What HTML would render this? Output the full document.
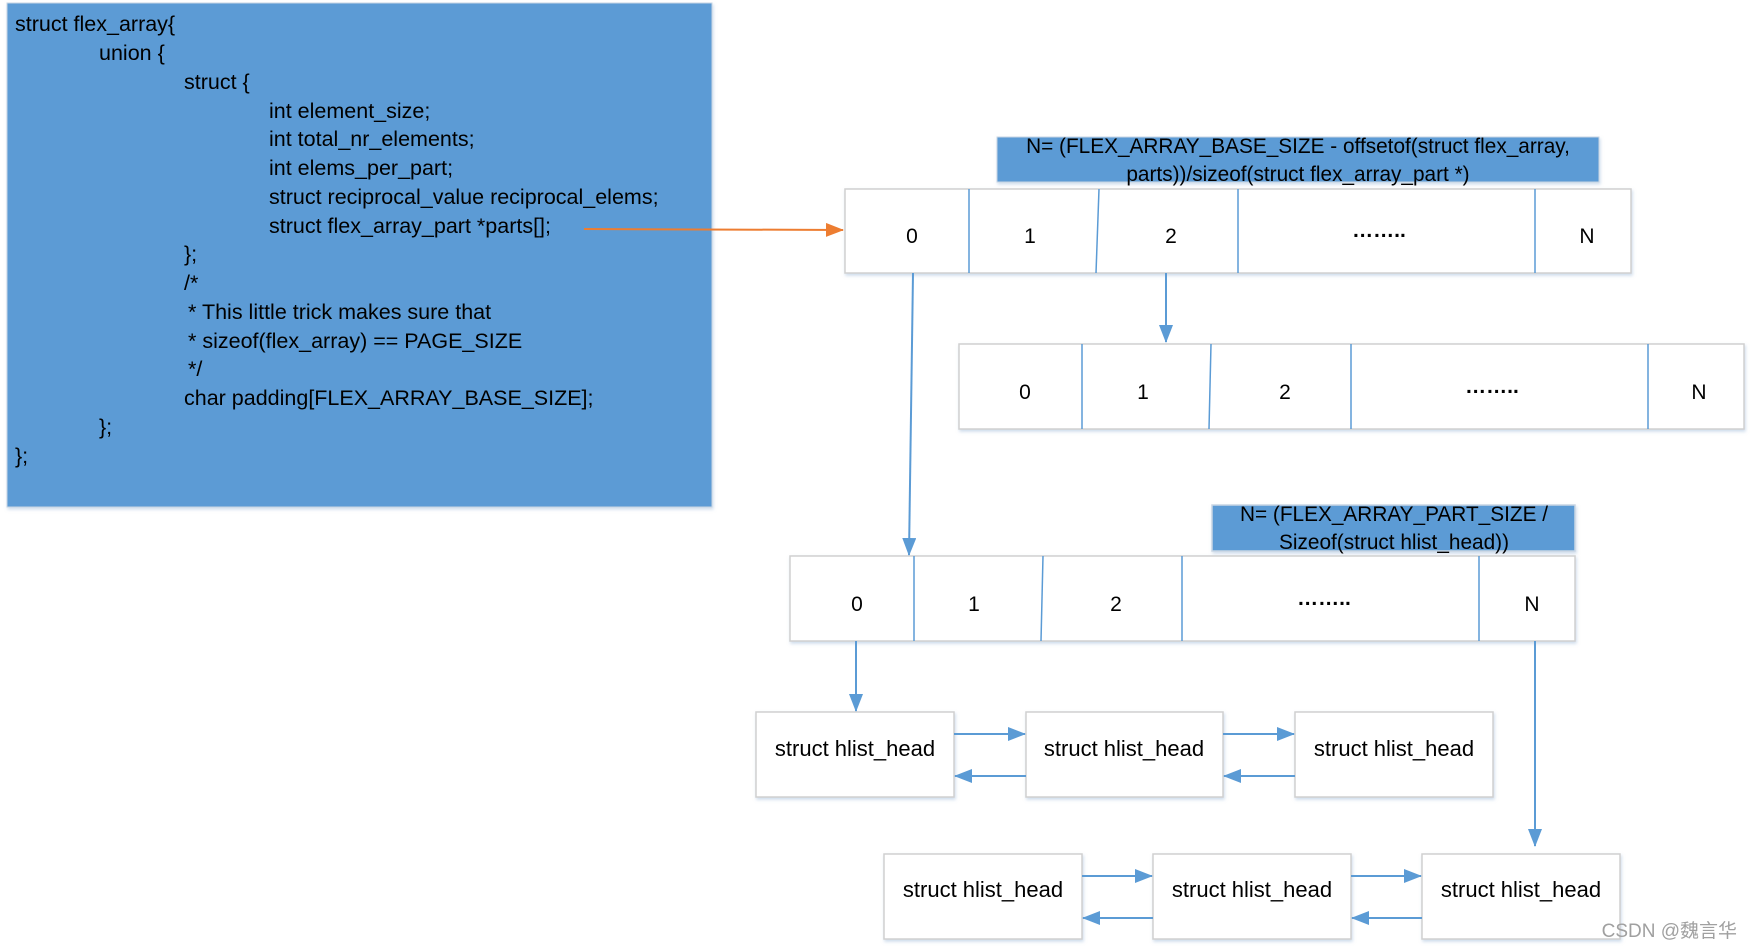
<!DOCTYPE html>
<html><head><meta charset="utf-8"><style>
html,body{margin:0;padding:0;background:#fff;width:1752px;height:949px;overflow:hidden}
svg text{font-family:"Liberation Sans","Noto Sans CJK SC",sans-serif;fill:#000}
</style></head><body>
<svg width="1752" height="949" viewBox="0 0 1752 949" xmlns="http://www.w3.org/2000/svg">
<defs>
<marker id="ab" markerWidth="18" markerHeight="14" refX="17" refY="7" orient="auto" markerUnits="userSpaceOnUse" viewBox="0 0 18 14"><path d="M0,0 L18,7 L0,14 z" fill="#5b9bd5"/></marker>
<marker id="ao" markerWidth="18" markerHeight="14" refX="17" refY="7" orient="auto" markerUnits="userSpaceOnUse" viewBox="0 0 18 14"><path d="M0,0 L18,7 L0,14 z" fill="#ed7d31"/></marker>
<filter id="sh" x="-5%" y="-5%" width="110%" height="120%"><feDropShadow dx="1" dy="2" stdDeviation="1.5" flood-color="#9db9d8" flood-opacity="0.5"/></filter>
</defs>
<!-- code box -->
<rect x="7" y="3" width="705" height="504" fill="#5b9bd5" stroke="#c9d6e4" filter="url(#sh)"/>
<g font-size="21.5">
<text x="15" y="31">struct flex_array{</text>
<text x="99" y="60">union {</text>
<text x="184" y="89">struct {</text>
<text x="269" y="118">int element_size;</text>
<text x="269" y="146">int total_nr_elements;</text>
<text x="269" y="175">int elems_per_part;</text>
<text x="269" y="204">struct reciprocal_value reciprocal_elems;</text>
<text x="269" y="233">struct flex_array_part *parts[];</text>
<text x="184" y="261">};</text>
<text x="184" y="290">/*</text>
<text x="188" y="319">* This little trick makes sure that</text>
<text x="188" y="348">* sizeof(flex_array) == PAGE_SIZE</text>
<text x="188" y="376">*/</text>
<text x="184" y="405">char padding[FLEX_ARRAY_BASE_SIZE];</text>
<text x="99" y="434">};</text>
<text x="15" y="463">};</text>
</g>
<line x1="584" y1="229" x2="843" y2="230" stroke="#ed7d31" stroke-width="2" marker-end="url(#ao)"/>

<!-- formula 1 -->
<rect x="997" y="137" width="602" height="45" fill="#5b9bd5" stroke="#c9d6e4" filter="url(#sh)"/>
<text x="1298" y="153" font-size="20.8" text-anchor="middle">N= (FLEX_ARRAY_BASE_SIZE - offsetof(struct flex_array,</text>
<text x="1298" y="181" font-size="20.8" text-anchor="middle">parts))/sizeof(struct flex_array_part *)</text>

<g font-size="21" text-anchor="middle" stroke-width="1.5">
<!-- array 1 -->
<rect x="845" y="189" width="786" height="84" fill="#fff" stroke="#d0d0d0" filter="url(#sh)"/>
<line x1="969" y1="189" x2="969" y2="273" stroke="#5b9bd5"/>
<line x1="1099" y1="189" x2="1096" y2="273" stroke="#5b9bd5"/>
<line x1="1238" y1="189" x2="1238" y2="273" stroke="#5b9bd5"/>
<line x1="1535" y1="189" x2="1535" y2="273" stroke="#5b9bd5"/>
<text x="912" y="243">0</text><text x="1030" y="243">1</text><text x="1171" y="243">2</text><text x="1379" y="237" font-weight="bold">……..</text><text x="1587" y="243">N</text>

<!-- array 2 -->
<rect x="959" y="344" width="785" height="85" fill="#fff" stroke="#d0d0d0" filter="url(#sh)"/>
<line x1="1082" y1="344" x2="1082" y2="429" stroke="#5b9bd5"/>
<line x1="1211" y1="344" x2="1209" y2="429" stroke="#5b9bd5"/>
<line x1="1351" y1="344" x2="1351" y2="429" stroke="#5b9bd5"/>
<line x1="1648" y1="344" x2="1648" y2="429" stroke="#5b9bd5"/>
<text x="1025" y="399">0</text><text x="1143" y="399">1</text><text x="1285" y="399">2</text><text x="1492" y="393" font-weight="bold">……..</text><text x="1699" y="399">N</text>

<!-- formula 2 -->
<rect x="1212" y="505" width="363" height="46" fill="#5b9bd5" stroke="#c9d6e4" filter="url(#sh)"/>
<text x="1394" y="521" font-size="20.8">N= (FLEX_ARRAY_PART_SIZE /</text>
<text x="1394" y="549" font-size="20.8">Sizeof(struct hlist_head))</text>

<!-- array 3 -->
<rect x="790" y="556" width="785" height="85" fill="#fff" stroke="#d0d0d0" filter="url(#sh)"/>
<line x1="914" y1="556" x2="914" y2="641" stroke="#5b9bd5"/>
<line x1="1043" y1="556" x2="1041" y2="641" stroke="#5b9bd5"/>
<line x1="1182" y1="556" x2="1182" y2="641" stroke="#5b9bd5"/>
<line x1="1479" y1="556" x2="1479" y2="641" stroke="#5b9bd5"/>
<text x="857" y="611">0</text><text x="974" y="611">1</text><text x="1116" y="611">2</text><text x="1324" y="605" font-weight="bold">……..</text><text x="1532" y="611">N</text>

<g font-size="22">
<!-- hlist row 1 -->
<rect x="756" y="712" width="198" height="85" fill="#fff" stroke="#d0d0d0" filter="url(#sh)"/>
<rect x="1026" y="712" width="197" height="85" fill="#fff" stroke="#d0d0d0" filter="url(#sh)"/>
<rect x="1295" y="712" width="198" height="85" fill="#fff" stroke="#d0d0d0" filter="url(#sh)"/>
<text x="855" y="756">struct hlist_head</text><text x="1124" y="756">struct hlist_head</text><text x="1394" y="756">struct hlist_head</text>
<!-- hlist row 2 -->
<rect x="884" y="854" width="198" height="85" fill="#fff" stroke="#d0d0d0" filter="url(#sh)"/>
<rect x="1153" y="854" width="198" height="85" fill="#fff" stroke="#d0d0d0" filter="url(#sh)"/>
<rect x="1422" y="854" width="198" height="85" fill="#fff" stroke="#d0d0d0" filter="url(#sh)"/>
<text x="983" y="897">struct hlist_head</text><text x="1252" y="897">struct hlist_head</text><text x="1521" y="897">struct hlist_head</text>
</g>
</g>

<g stroke="#5b9bd5" stroke-width="2" fill="none">
<line x1="913" y1="273" x2="909" y2="555" marker-end="url(#ab)"/>
<line x1="1166" y1="273" x2="1166" y2="342" marker-end="url(#ab)"/>
<line x1="856" y1="641" x2="856" y2="711" marker-end="url(#ab)"/>
<line x1="1535" y1="641" x2="1535" y2="846" marker-end="url(#ab)"/>
<line x1="954" y1="734" x2="1025" y2="734" marker-end="url(#ab)"/>
<line x1="1026" y1="776" x2="955" y2="776" marker-end="url(#ab)"/>
<line x1="1223" y1="734" x2="1294" y2="734" marker-end="url(#ab)"/>
<line x1="1295" y1="776" x2="1224" y2="776" marker-end="url(#ab)"/>
<line x1="1082" y1="876" x2="1152" y2="876" marker-end="url(#ab)"/>
<line x1="1153" y1="918" x2="1083" y2="918" marker-end="url(#ab)"/>
<line x1="1351" y1="876" x2="1421" y2="876" marker-end="url(#ab)"/>
<line x1="1422" y1="918" x2="1352" y2="918" marker-end="url(#ab)"/>
</g>
<text x="1737" y="937" font-size="19" text-anchor="end" style="fill:#a0a0a0">CSDN @魏言华</text>
</svg>
</body></html>
